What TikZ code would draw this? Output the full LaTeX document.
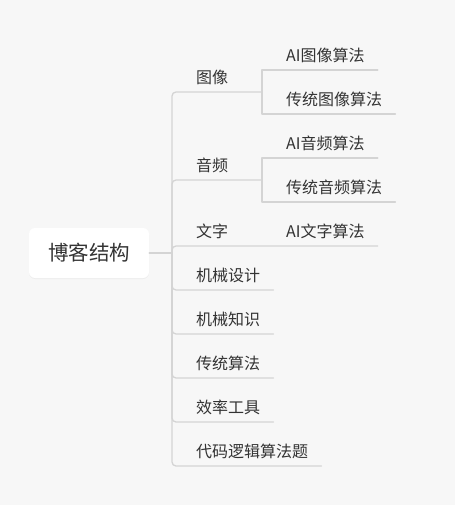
\documentclass[tikz,border=0pt]{standalone}
\usepackage{fontspec}
\setmainfont{Noto Sans CJK SC}
\usepackage{tikz}
\usetikzlibrary{shadows}
\definecolor{bgcol}{HTML}{F7F7F7}
\definecolor{linecol}{HTML}{D4D4D4}
\definecolor{txtcol}{HTML}{333333}

\begin{document}
\begin{tikzpicture}[line cap=round,line join=round,x=1pt,y=-1pt,
  link/.style={color=linecol,line width=1.3pt},
  topic/.style={anchor=south west,inner xsep=0pt,inner ysep=8.5pt,text depth=0pt,text height=12pt,text=txtcol,font=\fontsize{16pt}{19pt}\selectfont},
  rootbox/.style={fill=white,rounded corners=6pt,minimum width=120pt,minimum height=50pt,text=txtcol,font=\fontsize{20.5pt}{24pt}\selectfont,drop shadow={opacity=0.08,shadow xshift=0pt,shadow yshift=-1pt}}]
\fill[color=bgcol] (0,0) rectangle (455,505);
\useasboundingbox (0,0) rectangle (455,505);
\node[rootbox] (root) at (89,253) {博客结构};
\coordinate (hub) at (172,253);
\node[topic] (img) at (196,92) {图像};
\node[topic] (aud) at (196,180) {音频};
\node[topic] (txt) at (196,246) {文字};
\node[topic] (mech) at (196,290) {机械设计};
\node[topic] (know) at (196,334) {机械知识};
\node[topic] (algo) at (196,378) {传统算法};
\node[topic] (tool) at (196,422) {效率工具};
\node[topic] (code) at (196,466) {代码逻辑算法题};
\coordinate (imgfork) at (262,92);
\coordinate (audfork) at (262,180);
\node[topic] (imgai) at (286,70) {AI图像算法};
\node[topic] (imgold) at (286,114) {传统图像算法};
\node[topic] (audai) at (286,158) {AI音频算法};
\node[topic] (audold) at (286,202) {传统音频算法};
\node[topic] (txtai) at (286,246) {AI文字算法};
\draw[link] (root.east) -- (hub);
\draw[link,rounded corners=4pt] (hub) |- (img.south west) -- (imgfork);
\draw[link,rounded corners=4pt] (hub) |- (aud.south west) -- (audfork);
\draw[link,rounded corners=4pt] (hub) |- (txt.south west) -- (txtai.south west) -- ([xshift=13pt]txtai.south east);
\foreach \t in {mech,know,algo,tool,code}
\draw[link,rounded corners=4pt] (hub) |- (\t.south west) -- ([xshift=13pt]\t.south east);
\foreach \t in {imgai,imgold}
\draw[link] (imgfork) |- (\t.south west) -- ([xshift=13pt]\t.south east);
\foreach \t in {audai,audold}
\draw[link] (audfork) |- (\t.south west) -- ([xshift=13pt]\t.south east);
\end{tikzpicture}
\end{document}
